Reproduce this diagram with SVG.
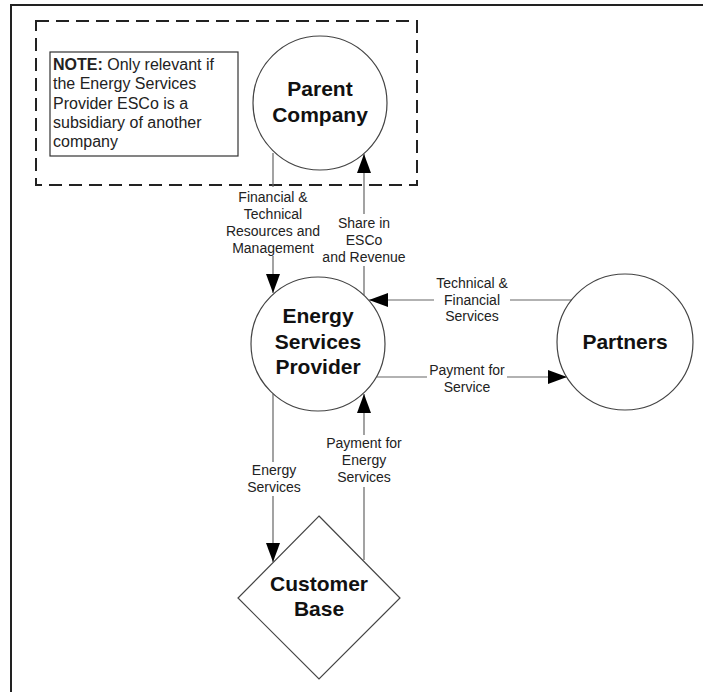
<svg xmlns="http://www.w3.org/2000/svg" width="703" height="692" viewBox="0 0 703 692">
  <style>
    .node { fill: #fff; stroke: #444; stroke-width: 1.2; }
    .ntext { font-family: "Liberation Sans", Arial, sans-serif; font-weight: bold; font-size: 21px; fill: #111; text-anchor: middle; }
    .elabel { font-family: "Liberation Sans", Arial, sans-serif; font-size: 14px; fill: #222; text-anchor: middle; }
    .note { font-family: "Liberation Sans", Arial, sans-serif; font-size: 16px; fill: #222; }
    .conn { fill: none; stroke: #666; stroke-width: 1.2; }
  </style>
  <defs>
    <marker id="arrow" markerUnits="userSpaceOnUse" markerWidth="19" markerHeight="14" viewBox="0 0 19 14" refX="19" refY="7" orient="auto">
      <path d="M0 0 L19 7 L0 14 z" fill="#000"/>
    </marker>
  </defs>

  <rect width="703" height="692" fill="#fff"/>

  <!-- page frame -->
  <path d="M11 692 V5 H703" fill="none" stroke="#222" stroke-width="2"/>

  <!-- parent company boundary -->
  <rect x="36" y="21" width="381" height="164" fill="none" stroke="#222" stroke-width="2" stroke-dasharray="13 7"/>

  <g id="note">
    <rect x="50" y="52" width="188" height="104" fill="#fff" stroke="#333" stroke-width="1.2"/>
    <text class="note" x="53" y="70"><tspan font-weight="bold">NOTE:</tspan> Only relevant if</text>
    <text class="note" x="53" y="89">the Energy Services</text>
    <text class="note" x="53" y="109">Provider ESCo is a</text>
    <text class="note" x="53" y="128">subsidiary of another</text>
    <text class="note" x="53" y="147">company</text>
  </g>

  <g id="connectors">
    <!-- parent company to provider -->
    <path class="conn" d="M273 153 V187 M273 256 V293" marker-end="url(#arrow)"/>
    <text class="elabel" x="273" y="202">Financial &amp;</text>
    <text class="elabel" x="273" y="219">Technical</text>
    <text class="elabel" x="273" y="236">Resources and</text>
    <text class="elabel" x="273" y="253">Management</text>

    <!-- provider to parent company -->
    <path class="conn" d="M364 295 V266 M364 214 V154" marker-end="url(#arrow)"/>
    <text class="elabel" x="364" y="228">Share in</text>
    <text class="elabel" x="364" y="245">ESCo</text>
    <text class="elabel" x="364" y="262">and Revenue</text>

    <!-- partners to provider -->
    <path class="conn" d="M574 300 H510 M434 300 H369" marker-end="url(#arrow)"/>
    <text class="elabel" x="472" y="288">Technical &amp;</text>
    <text class="elabel" x="472" y="305">Financial</text>
    <text class="elabel" x="472" y="321">Services</text>

    <!-- provider to partners -->
    <path class="conn" d="M377 377 H427 M507 377 H567" marker-end="url(#arrow)"/>
    <text class="elabel" x="467" y="375">Payment for</text>
    <text class="elabel" x="467" y="392">Service</text>

    <!-- provider to customer base -->
    <path class="conn" d="M273 394 V462 M273 496 V562" marker-end="url(#arrow)"/>
    <text class="elabel" x="274" y="475">Energy</text>
    <text class="elabel" x="274" y="492">Services</text>

    <!-- customer base to provider -->
    <path class="conn" d="M364 560 V487 M364 435 V394" marker-end="url(#arrow)"/>
    <text class="elabel" x="364" y="448">Payment for</text>
    <text class="elabel" x="364" y="465">Energy</text>
    <text class="elabel" x="364" y="482">Services</text>
  </g>

  <g id="parent-company">
    <circle class="node" cx="320" cy="103" r="67"/>
    <text class="ntext" x="320" y="96">Parent</text>
    <text class="ntext" x="320" y="122">Company</text>
  </g>

  <g id="energy-services-provider">
    <circle class="node" cx="318" cy="344" r="67"/>
    <text class="ntext" x="318" y="323">Energy</text>
    <text class="ntext" x="318" y="349">Services</text>
    <text class="ntext" x="318" y="374">Provider</text>
  </g>

  <g id="partners">
    <circle class="node" cx="625" cy="342" r="68"/>
    <text class="ntext" x="625" y="349">Partners</text>
  </g>

  <g id="customer-base">
    <path class="node" d="M319 516 L400 598 L319 679 L238 598 Z"/>
    <text class="ntext" x="319" y="591">Customer</text>
    <text class="ntext" x="319" y="616">Base</text>
  </g>
</svg>
